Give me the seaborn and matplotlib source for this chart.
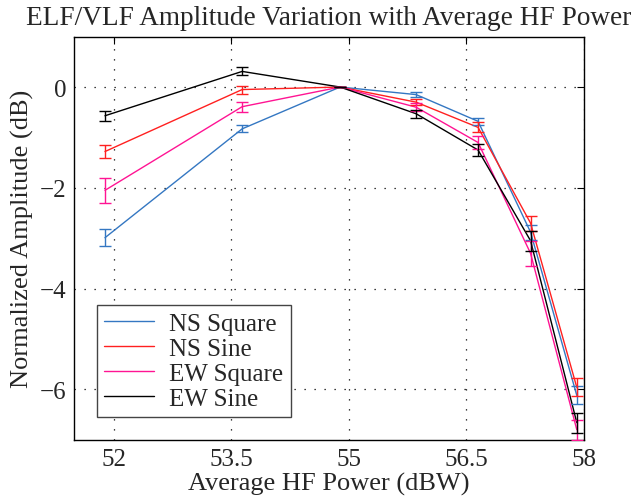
import numpy as np
import pandas as pd
import matplotlib
matplotlib.use("Agg")
import matplotlib.pyplot as plt
import seaborn as sns

power = [51.89, 53.64, 54.89, 55.86, 56.65, 57.32, 57.91]
series = ["NS Square", "NS Sine", "EW Square", "EW Sine"]
ns_square = [-2.99, -0.83, 0.0, -0.15, -0.68, -2.88, -6.12]
ns_sine = [-1.28, -0.05, 0.0, -0.30, -0.80, -2.70, -5.96]
ew_square = [-2.05, -0.39, 0.0, -0.40, -1.10, -3.30, -6.80]
ew_sine = [-0.57, 0.31, 0.0, -0.53, -1.25, -3.05, -6.66]
ns_square_err = [0.17, 0.07, 0.0, 0.05, 0.07, 0.15, 0.18]
ns_sine_err = [0.12, 0.08, 0.0, 0.06, 0.10, 0.15, 0.18]
ew_square_err = [0.25, 0.10, 0.0, 0.08, 0.12, 0.25, 0.20]
ew_sine_err = [0.10, 0.08, 0.0, 0.08, 0.12, 0.20, 0.20]
colors = ["#3477c2", "#ff2020", "#ff1493", "#000000"]

sns.set_style("white")
plt.rcParams["font.family"] = ["Liberation Serif", "DejaVu Serif"]

vals = [ns_square, ns_sine, ew_square, ew_sine]
errs = [ns_square_err, ns_sine_err, ew_square_err, ew_sine_err]
df = pd.DataFrame({
    "power": np.tile(power, len(series)),
    "amp": np.concatenate(vals),
    "err": np.concatenate(errs),
    "series": np.repeat(series, len(power)),
})

fig, ax = plt.subplots(figsize=(6.36, 5.02), dpi=100)
fig.subplots_adjust(left=0.117, right=0.918, top=0.925, bottom=0.122)

sns.lineplot(data=df, x="power", y="amp", hue="series", hue_order=series,
             palette=colors, sort=False, estimator=None, linewidth=1.0, ax=ax)
for name, c in zip(series, colors):
    sub = df[df.series == name]
    ax.errorbar(sub.power, sub.amp, yerr=sub.err, fmt="none", ecolor=c,
                elinewidth=1.0, capsize=4, capthick=1.0, zorder=3)

ax.set_xlim(51.5, 58.0)
ax.set_ylim(-7.0, 1.0)
ax.set_xticks([52, 53.5, 55, 56.5, 58])
ax.set_xticklabels(["52", "53.5", "55", "56.5", "58"])
ax.set_yticks([0, -2, -4, -6])
ax.set_yticklabels(["0", "\u22122", "\u22124", "\u22126"])
ax.grid(True, color="black", linestyle=(0, (1, 7)), linewidth=0.9)
ax.tick_params(direction="in", top=True, right=True, length=5, width=0.8,
               labelsize=18, color="black", pad=6)
for s in ax.spines.values():
    s.set_color("black")
    s.set_linewidth(1.0)

ax.set_title("ELF/VLF Amplitude Variation with Average HF Power", fontsize=19.6, pad=9)
ax.set_xlabel("Average HF Power (dBW)", fontsize=19, labelpad=1)
ax.set_ylabel("Normalized Amplitude (dB)", fontsize=19, labelpad=4)

leg = ax.legend(loc="lower left", fontsize=18, frameon=True, fancybox=False,
                edgecolor="#444444", borderpad=0.3, labelspacing=0.1,
                handlelength=2.0, handletextpad=0.6, borderaxespad=0.9)
leg.get_frame().set_linewidth(1.0)
leg.get_frame().set_alpha(1.0)
for h in leg.get_lines():
    h.set_linewidth(1.0)

fig.savefig("out.png", dpi=100)
